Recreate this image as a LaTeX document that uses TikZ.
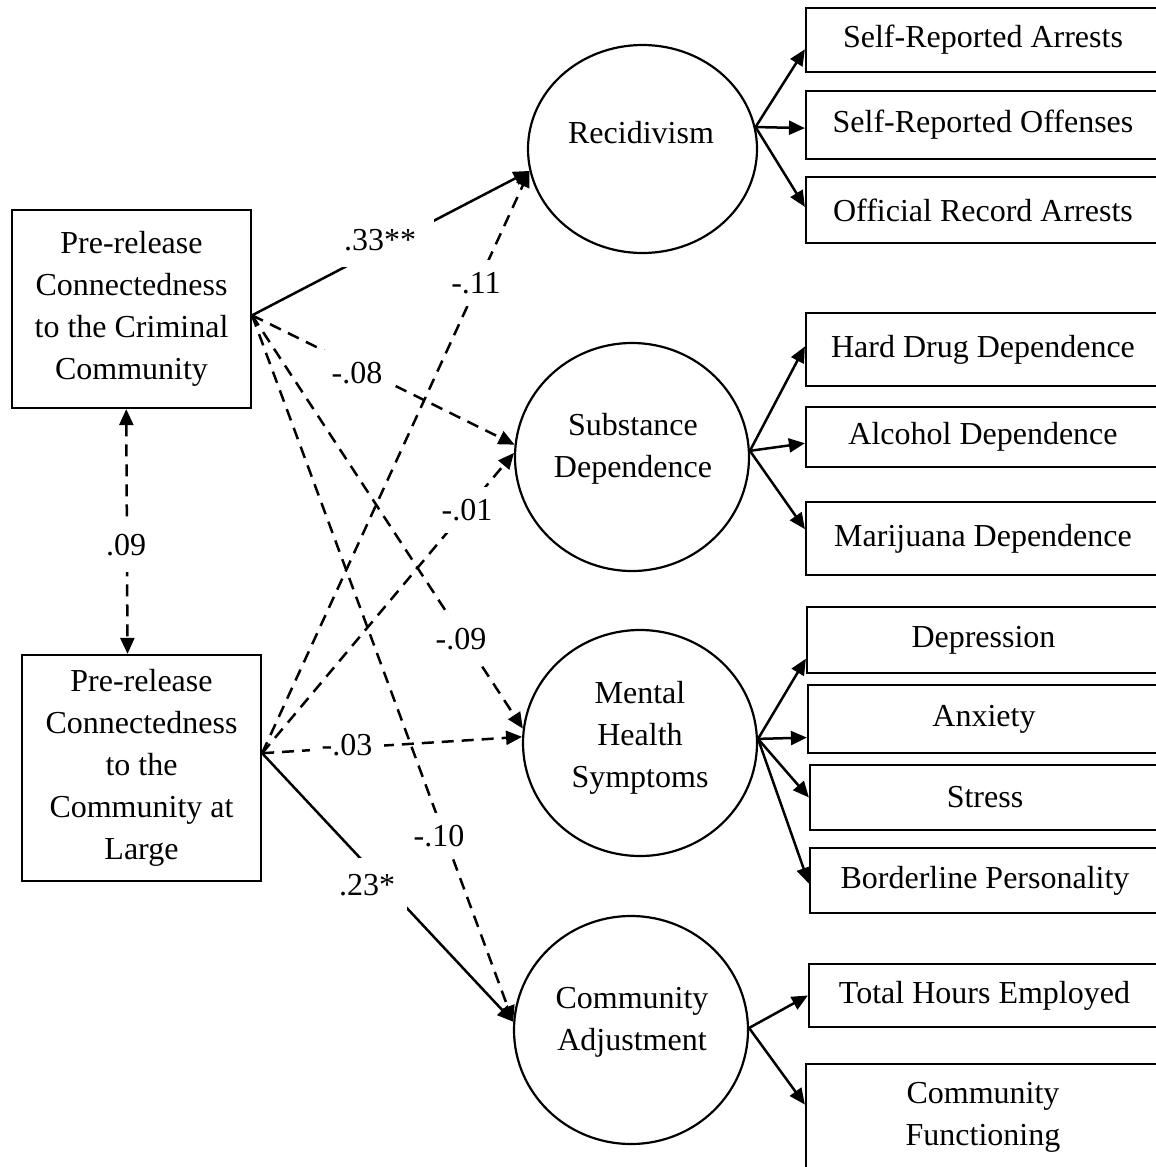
\documentclass[tikz,border=0pt]{standalone}
\usepackage{fontspec}
\setmainfont{Liberation Serif}
\usetikzlibrary{arrows.meta,shapes.geometric}
\begin{document}
\begin{tikzpicture}[x=0.5pt,y=-0.5pt,
  every node/.style={font=\fontsize{16}{21}\selectfont},
  obs/.style={draw,line width=1.1pt,rectangle,inner sep=0pt,align=center},
  lat/.style={draw,line width=1.1pt,ellipse,inner sep=0pt},
  txt/.style={align=center,inner sep=0pt},
  lbl/.style={fill=white,inner xsep=6pt,inner ysep=6pt},
  arr/.style={line width=1.25pt,-{Triangle[length=8pt,width=7pt]}},
  darr/.style={arr,dash pattern=on 6pt off 4pt},
]
\useasboundingbox (0,0) rectangle (1156,1167);

% exogenous boxes
\node[obs,minimum width=119.5pt,minimum height=99pt] (crim) at (131.5,309)
  {Pre-release\\Connectedness\\to the Criminal\\Community};
\node[obs,minimum width=119.5pt,minimum height=113pt] (large) at (141.5,768)
  {Pre-release\\Connectedness\\to the\\Community at\\Large};

% latent variables
\node[lat,minimum width=114.5pt,minimum height=104pt] (rec) at (642.5,149) {};
\node[lat,minimum width=117pt,minimum height=114pt] (sub) at (632,457) {};
\node[lat,minimum width=117pt,minimum height=113pt] (men) at (640,743) {};
\node[lat,minimum width=117pt,minimum height=114pt] (adj) at (631,1030) {};
\node[txt] (rect) at (641,133) {Recidivism};
\node[txt] (subt) at (633,449) {Substance\\Dependence};
\node[txt] (ment) at (640,738) {Mental\\Health\\Symptoms};
\node[txt] (adjt) at (632,1022) {Community\\Adjustment};

% indicators
\node[obs,minimum width=177pt,minimum height=32pt] (sra) at (983,40) {Self-Reported Arrests};
\node[obs,minimum width=177pt,minimum height=34pt] (sro) at (983,125) {Self-Reported Offenses};
\node[obs,minimum width=177pt,minimum height=33pt] (ora) at (983,210) {Official Record Arrests};
\node[obs,minimum width=177pt,minimum height=36.5pt] (hdd) at (983,349.5) {Hard Drug Dependence};
\node[obs,minimum width=177pt,minimum height=30pt] (ald) at (983,437) {Alcohol Dependence};
\node[obs,minimum width=177pt,minimum height=36.5pt] (mjd) at (983,538.5) {Marijuana Dependence};
\node[obs,minimum width=176.5pt,minimum height=33pt] (dep) at (983.5,640) {Depression};
\node[obs,minimum width=176pt,minimum height=34pt] (anx) at (984,719) {Anxiety};
\node[obs,minimum width=175pt,minimum height=32.5pt] (str) at (985,797.5) {Stress};
\node[obs,minimum width=175pt,minimum height=32.5pt] (bpd) at (985,880.5) {Borderline Personality};
\node[obs,minimum width=175.5pt,minimum height=31.5pt] (the) at (984.5,995.5) {Total Hours Employed};
\node[obs,minimum width=177pt,minimum height=53pt] (cfn) at (983,1117) {Community\\Functioning};

% measurement arrows
\draw[arr] (rec.11) -- (sra.183);
\draw[arr] (rec.11) -- (sro.181);
\draw[arr] (rec.11) -- (ora.179);
\draw[arr] (sub.3) -- (hdd.179);
\draw[arr] (sub.3) -- (ald.182);
\draw[arr] (sub.3) -- (mjd.177);
\draw[arr] (men.2) -- (dep.186);
\draw[arr] (men.2) -- (anx.186);
\draw[arr] (men.2) -- (str.180);
\draw[arr] (men.2) -- (bpd.181);
\draw[arr] (adj.1) -- (the.180);
\draw[arr] (adj.1) -- (cfn.176);

% structural paths
\draw[arr]  (crim.-3) -- (rec.191);
\draw[darr] (crim.-3) -- (sub.174);
\draw[darr] (crim.-3) -- (men.173);
\draw[darr] (crim.-3) -- (adj.176);
\draw[darr] (large.7) -- (rec.191);
\draw[darr] (large.7) -- (sub.178);
\draw[darr] (large.7) -- (men.177);
\draw[arr]  (large.7) -- (adj.176);
\draw[darr,{Triangle[length=8pt,width=7pt]}-{Triangle[length=8pt,width=7pt]}] (crim.267) -- (large.97);

% coefficients
\node[lbl,inner xsep=9pt,inner ysep=8pt] (c1) at (380,240) {.33**};
\node[lbl] (c2) at (357,373) {-.08};
\node[lbl] (c3) at (476,283) {-.11};
\node[lbl] (c4) at (467,510) {-.01};
\node[lbl] (c5) at (461,639) {-.09};
\node[lbl] (c6) at (347,745) {-.03};
\node[lbl] (c7) at (439,836) {-.10};
\node[lbl,inner ysep=8pt] (c8) at (367,885) {.23*};
\node[lbl,inner ysep=8pt] (c9) at (126,545) {.09};
\end{tikzpicture}
\end{document}
